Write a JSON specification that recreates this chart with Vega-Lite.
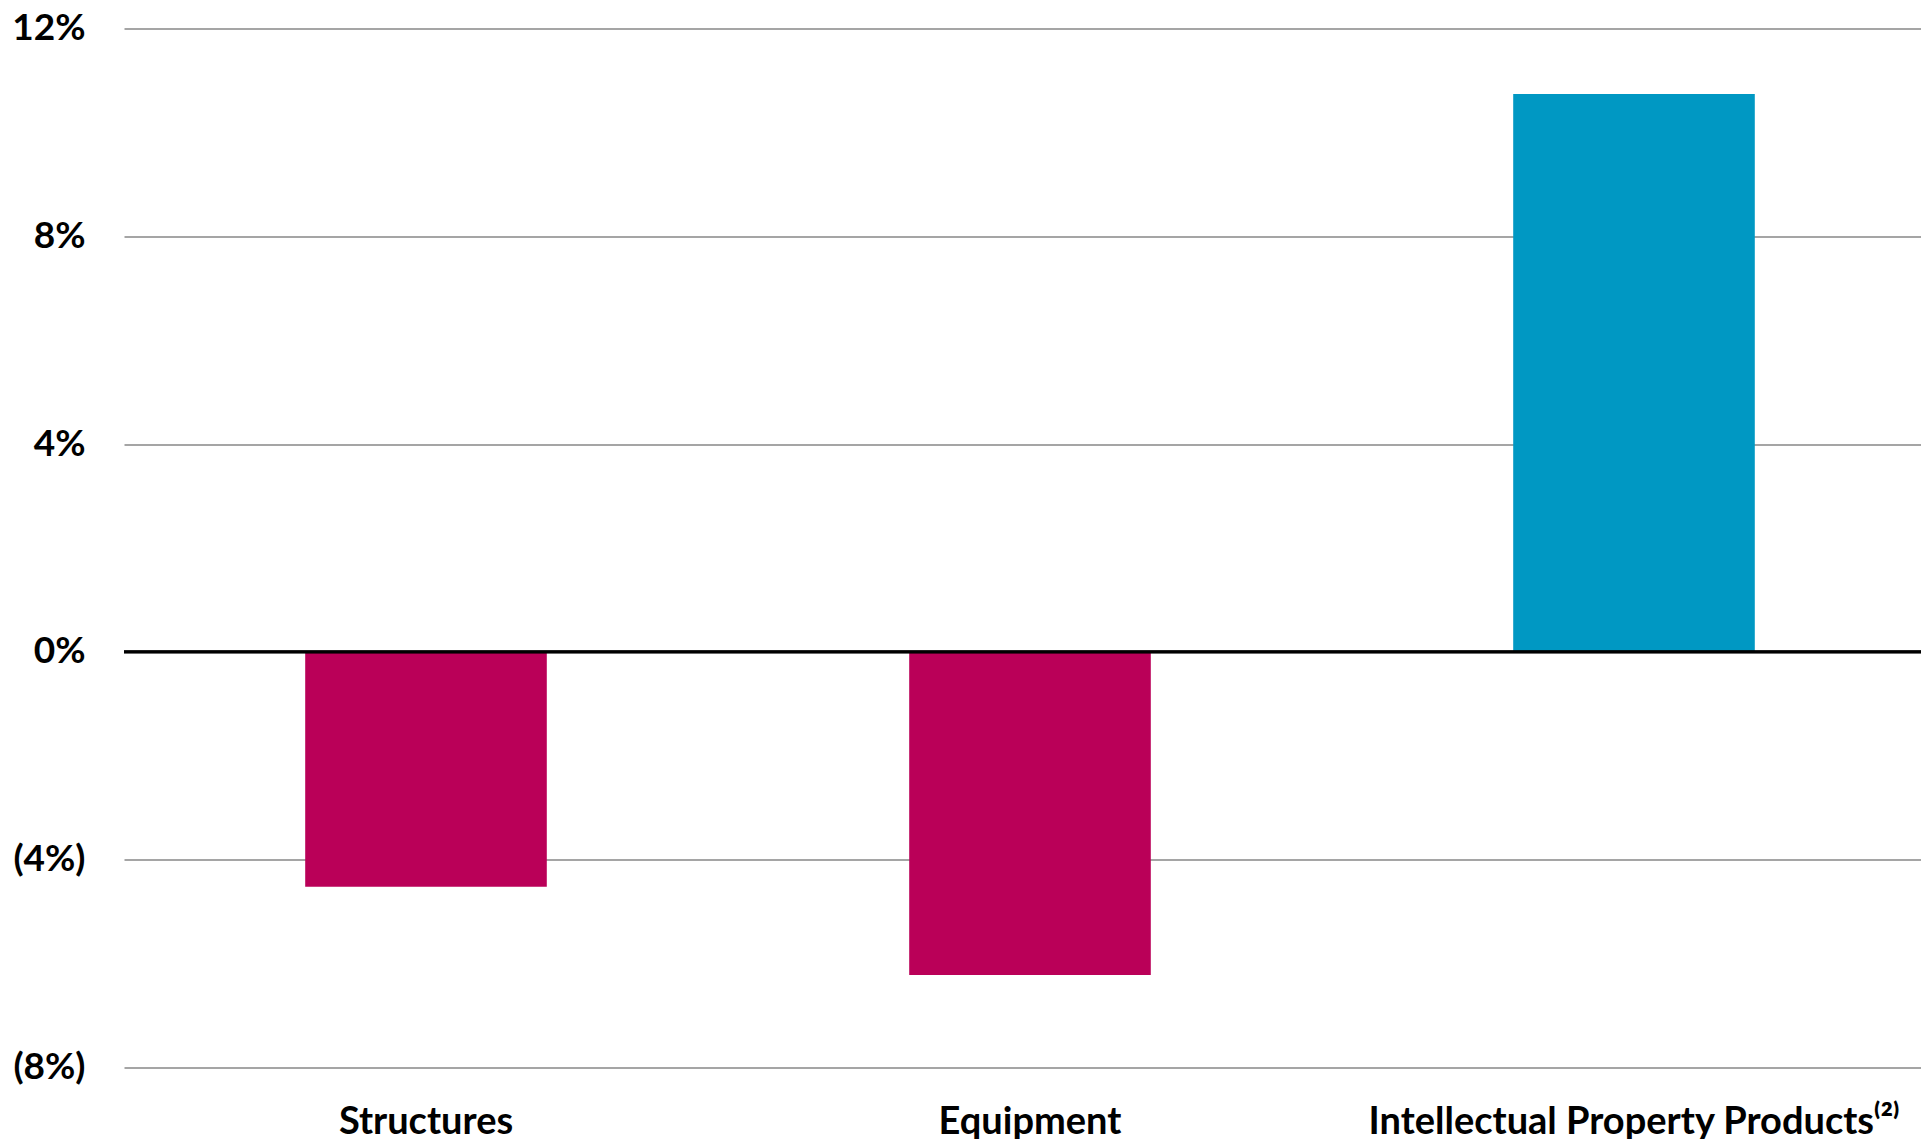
{
  "$schema": "https://vega.github.io/schema/vega-lite/v6.json",
  "autosize": "none",
  "width": 1812,
  "height": 1039,
  "padding": {"left": 124, "top": 28.5, "right": -15, "bottom": 71.5},
  "background": "white",
  "config": {"view": {"stroke": null}, "font": "Lato"},
  "data": {"values": [
    {"category": "Structures", "value": -4.52, "sign": "neg"},
    {"category": "Equipment", "value": -6.22, "sign": "neg"},
    {"category": "Intellectual Property Products⁽²⁾", "value": 10.74, "sign": "pos"}
  ]},
  "layer": [
    {
      "mark": {"type": "bar", "width": {"band": 1}},
      "encoding": {
        "x": {"field": "category", "type": "nominal", "sort": null,
          "scale": {"paddingInner": 0.6, "paddingOuter": 0.3},
          "axis": {"title": null, "labelAngle": 0, "domain": false, "ticks": false, "tickSize": 0,
            "labelFont": "Lato", "labelFontWeight": "bold", "labelFontSize": 38, "labelColor": "#000000",
            "labelPadding": 36, "labelBaseline": "top", "labelLimit": 0, "labelOverlap": false, "grid": false}},
        "y": {"field": "value", "type": "quantitative",
          "scale": {"domain": [-8, 12], "nice": false, "zero": false},
          "axis": {"title": null, "values": [-8, -4, 0, 4, 8, 12], "domain": false, "ticks": false, "tickSize": 0,
            "labelExpr": "datum.value < 0 ? '(' + abs(datum.value) + '%)' : datum.value + '%'",
            "labelFont": "Lato", "labelFontWeight": "bold", "labelFontSize": 37, "labelColor": "#000000",
            "labelPadding": 39, "labelBaseline": "middle",
            "grid": true, "gridColor": "#878787", "gridWidth": 1.5}},
        "color": {"field": "sign", "type": "nominal",
          "scale": {"domain": ["neg", "pos"], "range": ["#BA0058", "#0098C3"]}, "legend": null}
      }
    },
    {
      "mark": {"type": "rule", "color": "#000000", "strokeWidth": 2.7},
      "encoding": {"y": {"datum": 0}}
    }
  ]
}
